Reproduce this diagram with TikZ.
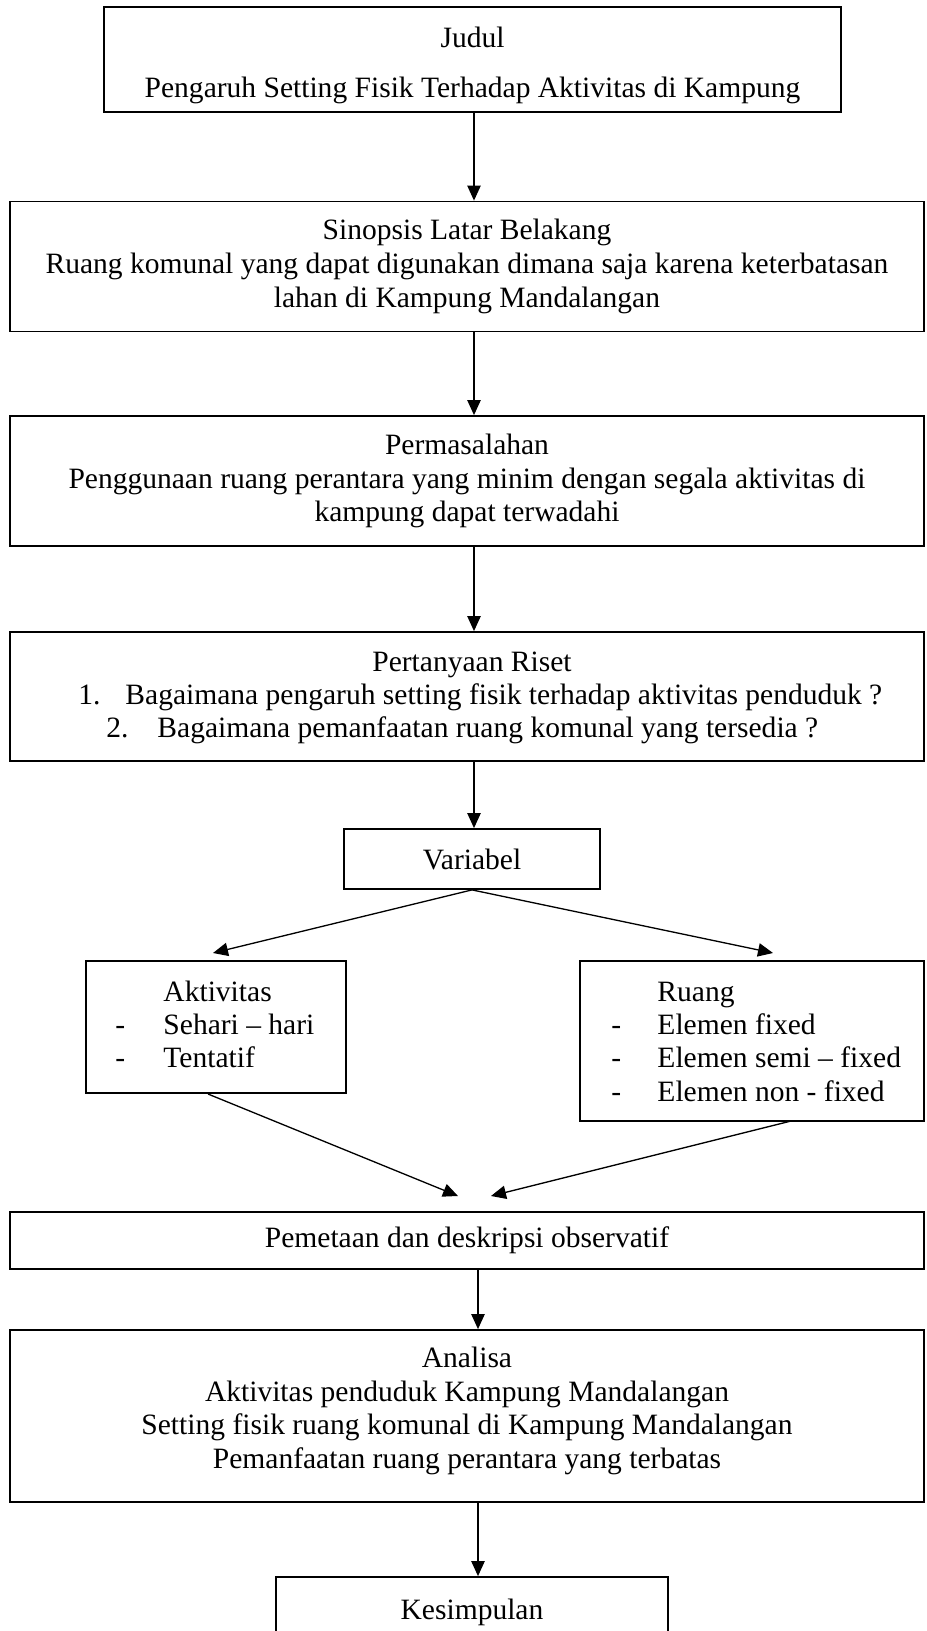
\documentclass[tikz,border=0pt]{standalone}
\usepackage{fontspec}
\setmainfont{Liberation Serif}
\usetikzlibrary{arrows.meta,calc}
\begin{document}
\begin{tikzpicture}[x=0.42pt,y=-0.42pt,
  box/.style={draw,line width=0.75pt,inner sep=0pt,align=center,
    font=\fontsize{12.4}{14.2}\selectfont},
  txt/.style={inner sep=0pt,align=center,font=\fontsize{12.4}{14.2}\selectfont},
  arr/.style={line width=0.55pt,-{Triangle[length=6.3pt,width=5.6pt]}},
  ln/.style={line width=0.55pt}]
\clip (0,0) rectangle (926,1631);
\fill[white] (0,0) rectangle (926,1631);
% boxes
\node[box,minimum width=737*0.42pt,minimum height=105*0.42pt] (judul) at (472.5,59.5) {};
\node[txt,anchor=base] (judulT) at (472.5,47) {Judul};
\node[txt,anchor=base] (judulS) at (472.5,97) {Pengaruh Setting Fisik Terhadap Aktivitas di Kampung};
\node[box,minimum width=914*0.42pt,minimum height=130*0.42pt] (sinopsis) at (467,266.5)
  {Sinopsis Latar Belakang\\Ruang komunal yang dapat digunakan dimana saja karena keterbatasan\\lahan di Kampung Mandalangan};
\node[box,minimum width=914*0.42pt,minimum height=130*0.42pt] (masalah) at (467,481)
  {Permasalahan\\Penggunaan ruang perantara yang minim dengan segala aktivitas di\\kampung dapat terwadahi};
\node[box,minimum width=914*0.42pt,minimum height=129*0.42pt] (riset) at (467,696.5) {};
\node[txt,anchor=base] (risetT) at (472,671) {Pertanyaan Riset};
\node[txt,anchor=base west] (r1n) at (78,704) {1.};
\node[txt,anchor=base west] (r1) at (125,704) {Bagaimana pengaruh setting fisik terhadap aktivitas penduduk ?};
\node[txt,anchor=base west] (r2n) at (106,737) {2.};
\node[txt,anchor=base west] (r2) at (157,737) {Bagaimana pemanfaatan ruang komunal yang tersedia ?};
\node[box,minimum width=256*0.42pt,minimum height=60*0.42pt] (variabel) at (472,859) {Variabel};
\node[box,minimum width=260*0.42pt,minimum height=132*0.42pt] (aktivitas) at (216,1027) {};
\node[txt,anchor=base west] (a0) at (163,1001) {Aktivitas};
\node[txt,anchor=base west] (a1d) at (115,1034) {-};
\node[txt,anchor=base west] (a1) at (163,1034) {Sehari -- hari};
\node[txt,anchor=base west] (a2d) at (115,1067) {-};
\node[txt,anchor=base west] (a2) at (163,1067) {Tentatif};
\node[box,minimum width=344*0.42pt,minimum height=160*0.42pt] (ruang) at (752,1041) {};
\node[txt,anchor=base west] (b0) at (657,1001) {Ruang};
\node[txt,anchor=base west] (b1d) at (611,1034) {-};
\node[txt,anchor=base west] (b1) at (657,1034) {Elemen fixed};
\node[txt,anchor=base west] (b2d) at (611,1067) {-};
\node[txt,anchor=base west] (b2) at (657,1067) {Elemen semi -- fixed};
\node[txt,anchor=base west] (b3d) at (611,1101) {-};
\node[txt,anchor=base west] (b3) at (657,1101) {Elemen non - fixed};
\node[box,minimum width=914*0.42pt,minimum height=57*0.42pt] (pemetaan) at (467,1240.5)
  {Pemetaan dan deskripsi observatif};
\node[box,minimum width=914*0.42pt,minimum height=172*0.42pt] (analisa) at (467,1416) {};
\node[txt] (analisaT) at (467,1411)
  {Analisa\\Aktivitas penduduk Kampung Mandalangan\\Setting fisik ruang komunal di Kampung Mandalangan\\Pemanfaatan ruang perantara yang terbatas};
\node[box,minimum width=392*0.42pt,minimum height=70*0.42pt] (kesimpulan) at (472,1612) {};
\node[txt,anchor=base] (kesT) at (472,1619) {Kesimpulan};
% free ends
\coordinate (tA) at (213,953);
\coordinate (tR) at (773,953);
\coordinate (aB) at (208,1094);
\coordinate (rB) at (791,1121);
\coordinate (pA) at (458,1196);
\coordinate (pR) at (491,1196);
% connectors
\draw[arr] (judul.south -| 474,0) -- (sinopsis.north -| 474,0);
\draw[arr] (sinopsis.south -| 474,0) -- (masalah.north -| 474,0);
\draw[arr] (masalah.south -| 474,0) -- (riset.north -| 474,0);
\draw[arr] (riset.south -| 474,0) -- (variabel.north -| 474,0);
\draw[arr] (variabel.south) -- (tA);
\draw[arr] (variabel.south) -- (tR);
\draw[arr] (aB) -- (pA);
\draw[arr] (rB) -- (pR);
\draw[arr] (pemetaan.south -| 478,0) -- (analisa.north -| 478,0);
\draw[arr] (analisa.south -| 478,0) -- (kesimpulan.north -| 478,0);
\end{tikzpicture}
\end{document}
